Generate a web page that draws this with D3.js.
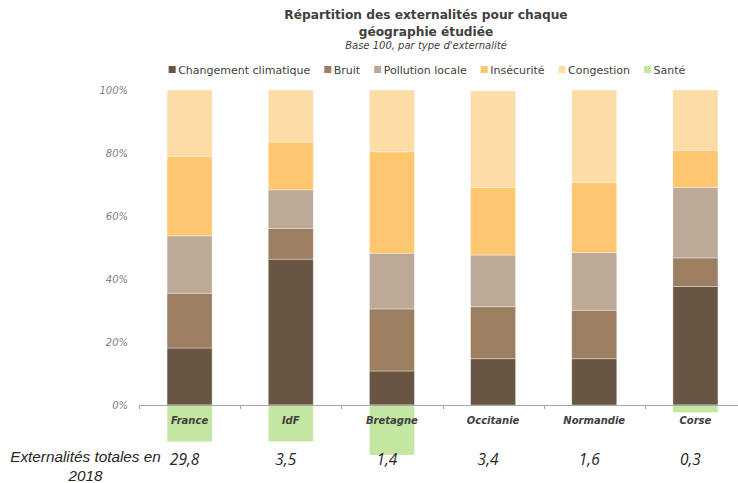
<!DOCTYPE html>
<html><head><meta charset="utf-8">
<script src="https://cdn.jsdelivr.net/npm/d3@7"></script>
<style>
html,body{margin:0;padding:0;background:#fff;}
svg{display:block;}
</style></head>
<body><svg id="c" width="738" height="483"></svg>
<script>
const categories = ["France","IdF","Bretagne","Occitanie","Normandie","Corse"];
const seriesNames = ["Changement climatique","Bruit","Pollution locale","Insécurité","Congestion","Santé"];
const changementClimatique = [18.1,46.3,10.8,14.7,14.7,37.6];
const bruit = [17.4,9.8,19.7,16.5,15.4,9.1];
const pollutionLocale = [18.2,12.2,17.7,16.4,18.3,22.4];
const insecurite = [25.3,15.2,32.2,21.4,22.2,11.8];
const congestion = [21.0,16.5,19.6,30.7,29.4,19.1];
const sante = [-11.7,-11.6,-15.9,0,0,-2.4];
const totals = ["29,8","3,5","1,4","3,4","1,6","0,3"];
const yTicks = [0,20,40,60,80,100];
const colors = ["#685642","#9c7e61","#bdaa96","#ffc670","#fddca6","#c3e6a0"];

const seriesValues = [changementClimatique,bruit,pollutionLocale,insecurite,congestion,sante];
const rows = categories.map((c,i)=>{const o={cat:c}; seriesNames.forEach((s,j)=>o[s]=seriesValues[j][i]); return o;});

const svg = d3.select("#c");
const FONT = "'DejaVu Sans', sans-serif";

const y = d3.scaleLinear().domain([0,100]).range([405,90]);
const xOuter = d3.scaleBand().domain(categories).range([139,746]).padding(0);
const x = d3.scaleBand().domain(categories).range([139,746]).paddingInner(0.555).paddingOuter(0.2775);

// title
svg.append("text").attr("x",426).attr("y",19).attr("text-anchor","middle")
  .attr("font-family",FONT).attr("font-weight","bold").attr("font-size",12.2).attr("fill","#404040")
  .text("Répartition des externalités pour chaque");
svg.append("text").attr("x",426).attr("y",36).attr("text-anchor","middle")
  .attr("font-family",FONT).attr("font-weight","bold").attr("font-size",12.2).attr("fill","#404040")
  .text("géographie étudiée");
svg.append("text").attr("x",426).attr("y",49).attr("text-anchor","middle")
  .attr("font-family",FONT).attr("font-style","italic").attr("font-size",10).attr("fill","#404040")
  .text("Base 100, par type d'externalité");

// legend
const lg = svg.append("g");
let lx = 0;
const gap = 14;
seriesNames.forEach((s,i)=>{
  const g = lg.append("g").attr("transform",`translate(${lx},0)`);
  g.append("rect").attr("x",0).attr("y",66).attr("width",7).attr("height",7).attr("fill",colors[i]);
  const t = g.append("text").attr("x",9.5).attr("y",73.5).attr("font-family",FONT).attr("font-size",11).attr("fill","#404040").text(s);
  lx += 9.5 + t.node().getComputedTextLength() + gap;
});
lx -= gap;
lg.attr("transform",`translate(${427 - lx/2},0)`);

// y axis
const ya = svg.append("g").attr("transform","translate(131,0)")
  .call(d3.axisLeft(y).tickValues(yTicks).tickFormat(d=>d+"%").tickSize(0));
ya.select(".domain").remove();
ya.selectAll("text").attr("font-family",FONT).attr("font-style","italic").attr("font-size",10).attr("fill","#808080").attr("dx",0);

// bars
const stack = d3.stack().keys(seriesNames).offset(d3.stackOffsetDiverging);
const layers = stack(rows);
svg.append("g").selectAll("g").data(layers).join("g")
  .attr("fill",(d,i)=>colors[i])
  .selectAll("rect").data(d=>d).join("rect")
  .attr("x",d=>x(d.data.cat))
  .attr("width",x.bandwidth())
  .attr("y",d=>y(Math.max(d[0],d[1])))
  .attr("height",d=>Math.abs(y(d[0])-y(d[1])))
  .attr("stroke","rgba(255,255,255,0.45)").attr("stroke-width",0.8);

// x axis line and ticks
const ax = svg.append("g");
ax.append("line").attr("x1",139).attr("x2",746).attr("y1",y(0)+0.5).attr("y2",y(0)+0.5).attr("stroke","#a6a6a6").attr("stroke-width",1);
ax.selectAll("line.t").data(categories).join("line").attr("class","t")
  .attr("x1",d=>Math.round(xOuter(d))+0.5).attr("x2",d=>Math.round(xOuter(d))+0.5)
  .attr("y1",y(0)).attr("y2",y(0)+4).attr("stroke","#a6a6a6");

// category labels
svg.append("g").selectAll("text").data(categories).join("text")
  .attr("x",d=>x(d)+x.bandwidth()/2).attr("y",424).attr("text-anchor","middle")
  .attr("font-family",FONT).attr("font-weight","bold").attr("font-style","italic").attr("font-size",10)
  .attr("fill","#404040").text(d=>d);

// totals row
const LBL = "'Liberation Sans', Arial, sans-serif";
svg.append("text").attr("x",85.5).attr("y",462).attr("text-anchor","middle")
  .attr("font-family",LBL).attr("font-style","italic").attr("font-size",15.3).attr("fill","#262626")
  .text("Externalités totales en");
svg.append("text").attr("x",85.5).attr("y",481).attr("text-anchor","middle")
  .attr("font-family",LBL).attr("font-style","italic").attr("font-size",15.3).attr("fill","#262626")
  .text("2018");
svg.append("g").selectAll("text").data(categories).join("text")
  .attr("x",d=>x(d)+x.bandwidth()/2-5).attr("y",465).attr("text-anchor","middle")
  .attr("font-family","'Open Sans', sans-serif").attr("font-style","italic").attr("font-size",15.5).attr("fill","#262626")
  .text((d,i)=>totals[i]);
</script></body></html>
